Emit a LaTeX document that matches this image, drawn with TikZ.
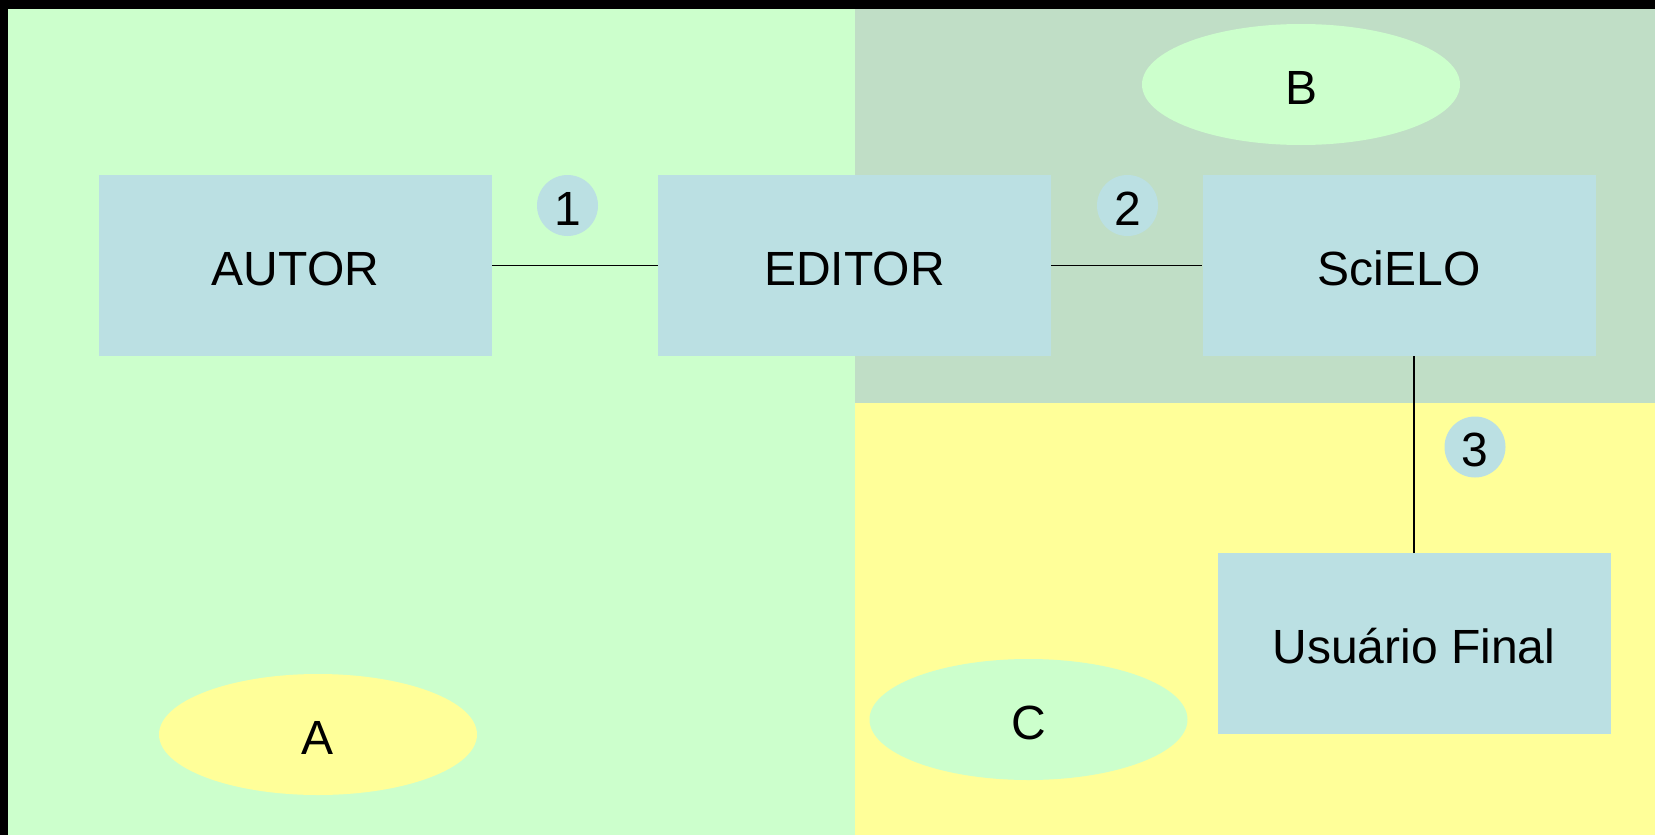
\documentclass[tikz,border=0pt]{standalone}
\usepackage{fontspec}
\setmainfont{Liberation Sans}
\usepackage{tikz}
\usetikzlibrary{shapes,positioning}
\usepackage{xcolor}
\definecolor{sclightgreen}{RGB}{204,255,204}
\definecolor{scgreygreen}{RGB}{192,222,198}
\definecolor{scyellow}{RGB}{255,255,153}
\definecolor{scblue}{RGB}{187,224,227}
\tikzstyle{bigtext} = [font=\fontsize{48}{58}\selectfont, text height=39.4pt, text depth=0pt]
\tikzstyle{actor} = [rectangle, minimum width=393pt, minimum height=181pt, inner sep=0pt, text centered, fill=scblue, bigtext]
\tikzstyle{stepnum} = [circle, minimum size=61pt, inner sep=0pt, fill=scblue, bigtext]
\tikzstyle{zone} = [ellipse, minimum width=318pt, minimum height=121pt, inner sep=0pt, bigtext]
\tikzstyle{link} = [line width=1.8pt, color=black]

\begin{document}
\begin{tikzpicture}[x=1pt, y=-1pt]
% Background areas
\fill[black] (0,0) rectangle (1655,835);
\useasboundingbox (0,0) rectangle (1655,835);
\fill[sclightgreen] (8,9) rectangle (855,835);
\fill[scgreygreen] (855,9) rectangle (1655,403);
\fill[scyellow] (855,403) rectangle (1655,835);

% Areas
\node (zoneA) [zone, fill=scyellow] at (318,734.5) {A};
\node (zoneB) [zone, fill=sclightgreen] at (1301,84.5) {B};
\node (zoneC) [zone, fill=sclightgreen] at (1028.5,719.5) {C};

% Actors
\node (autor) [actor] at (295.5,265.5) {AUTOR};
\node (editor) [actor] at (854.5,265.5) {EDITOR};
\node (scielo) [actor] at (1399,265.5) {SciELO};
\node (usuario) [actor] at (1414,643.5) {Usuário Final};

% Steps
\node (one) [stepnum] at (567.5,205.5) {1};
\node (two) [stepnum] at (1127.5,205.5) {2};
\node (three) [stepnum] at (1475,447) {3};

\draw[link] (autor) -- (editor);
\draw[link] (editor) -- (scielo);
\draw[link] (usuario.north) -- (usuario.north |- scielo.south);
\end{tikzpicture}
\end{document}
